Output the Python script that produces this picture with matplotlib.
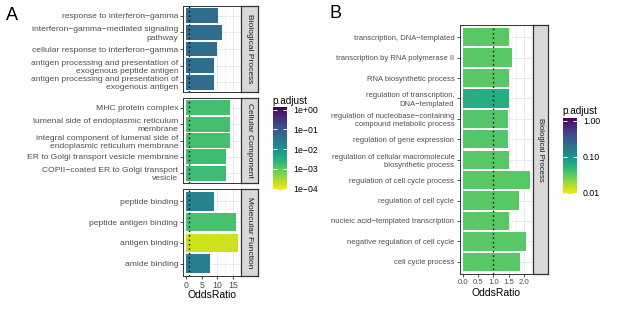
import numpy as np
import matplotlib
matplotlib.use("Agg")
import matplotlib.pyplot as plt
from matplotlib.colors import LogNorm
from matplotlib.cm import ScalarMappable
from matplotlib.ticker import MultipleLocator, NullLocator

plt.rcParams['font.family'] = ['Liberation Sans', 'DejaVu Sans']

M = "\u2212"

# ---------------- Panel A data ----------------
bp_terms = [f"response to interferon{M}gamma",
            f"interferon{M}gamma{M}mediated signaling\npathway",
            f"cellular response to interferon{M}gamma",
            "antigen processing and presentation of\nexogenous peptide antigen",
            "antigen processing and presentation of\nexogenous antigen"]
bp_odds = [10.2, 11.6, 10.0, 8.9, 8.9]
bp_padj = [0.045, 0.045, 0.045, 0.045, 0.045]

cc_terms = ["MHC protein complex",
            "lumenal side of endoplasmic reticulum\nmembrane",
            "integral component of lumenal side of\nendoplasmic reticulum membrane",
            "ER to Golgi transport vesicle membrane",
            f"COPII{M}coated ER to Golgi transport\nvesicle"]
cc_odds = [14.0, 14.0, 14.0, 12.9, 12.9]
cc_padj = [0.0015, 0.0015, 0.0015, 0.0017, 0.0017]

mf_terms = ["peptide binding", "peptide antigen binding",
            "antigen binding", "amide binding"]
mf_odds = [9.0, 16.1, 16.7, 7.7]
mf_padj = [0.019, 0.0014, 0.00018, 0.023]

facet_names_A = ["Biological Process", "Cellular Component", "Molecular Function"]
a_cbar_ticks = [1e0, 1e-1, 1e-2, 1e-3, 1e-4]
a_cbar_labels = ["1e+00", f"1e{M}01", f"1e{M}02", f"1e{M}03", f"1e{M}04"]
a_xticks = [0, 5, 10, 15]

# ---------------- Panel B data ----------------
b_terms = [f"transcription, DNA{M}templated",
           "transcription by RNA polymerase II",
           "RNA biosynthetic process",
           f"regulation of transcription,\nDNA{M}templated",
           f"regulation of nucleobase{M}containing\ncompound metabolic process",
           "regulation of gene expression",
           "regulation of cellular macromolecule\nbiosynthetic process",
           "regulation of cell cycle process",
           "regulation of cell cycle",
           f"nucleic acid{M}templated transcription",
           "negative regulation of cell cycle",
           "cell cycle process"]
b_odds = [1.51, 1.60, 1.51, 1.53, 1.48, 1.48, 1.53, 2.20, 1.85, 1.51, 2.07, 1.87]
b_padj = [0.033, 0.033, 0.033, 0.059, 0.034, 0.034, 0.033, 0.033, 0.033, 0.033, 0.033, 0.033]
b_cbar_ticks = [1.0, 0.1, 0.01]
b_cbar_labels = ["1.00", "0.10", "0.01"]
b_xticks = [0.0, 0.5, 1.0, 1.5, 2.0]
facet_name_B = "Biological Process"

# ---------------- Layout helpers ----------------
W, H = 617, 309
fig = plt.figure(figsize=(W / 100, H / 100), dpi=100)


def rect(x0, y0, x1, y1):
    return [x0 / W, 1 - y1 / H, (x1 - x0) / W, (y1 - y0) / H]


cmap = plt.get_cmap("viridis_r")
normA = LogNorm(vmin=10 ** -4.07, vmax=10 ** 0.12)
normB = LogNorm(vmin=10 ** -2.03, vmax=10 ** 0.083)

GRID = "#EBEBEB"
BORDER = "#333333"
TXT = "#4D4D4D"


def style_panel(ax, terms, odds, padj, norm, xlim, xticks, minor, ysize, show_x, xsize):
    n = len(terms)
    pos = np.arange(n)
    ax.set_xlim(*xlim)
    ax.set_ylim(n - 0.4, -0.6)
    ax.set_xticks(xticks)
    ax.xaxis.set_minor_locator(MultipleLocator(minor))
    ax.set_yticks(pos)
    ax.set_yticklabels(terms, fontsize=ysize, color=TXT, linespacing=1.25)
    ax.grid(True, which="major", color=GRID, lw=0.7)
    ax.grid(True, which="minor", axis="x", color=GRID, lw=0.4)
    ax.set_axisbelow(True)
    ax.barh(pos, odds, height=0.9, color=cmap(norm(np.array(padj))), zorder=2)
    ax.axvline(1, color="black", ls=(0, (1, 2.2)), lw=1.0, zorder=3)
    for s in ax.spines.values():
        s.set_color(BORDER)
        s.set_linewidth(0.7)
    ax.tick_params(axis="both", which="major", length=2.2, width=0.6, color=BORDER, pad=1.5)
    ax.tick_params(axis="x", which="minor", length=0)
    ax.tick_params(axis="x", labelsize=xsize, labelcolor=TXT)
    if not show_x:
        ax.tick_params(axis="x", labelbottom=False, length=0)


def strip(x0, y0, x1, y1, text, size):
    sax = fig.add_axes(rect(x0, y0, x1, y1))
    sax.set_xticks([])
    sax.set_yticks([])
    sax.set_facecolor("#D9D9D9")
    for s in sax.spines.values():
        s.set_color(BORDER)
        s.set_linewidth(0.9)
    sax.text(0.5, 0.5, text, rotation=270, ha="center", va="center",
             fontsize=size, color="#1A1A1A", transform=sax.transAxes)


# ---------------- Panel A ----------------
ax_x0, ax_x1 = 183.3, 241.0
facet_y = [(6, 92), (98, 183), (189, 276)]
A_sets = [(bp_terms, bp_odds, bp_padj), (cc_terms, cc_odds, cc_padj), (mf_terms, mf_odds, mf_padj)]
xlimA = (-0.85, 17.55)
for i, ((y0, y1), (t, o, p)) in enumerate(zip(facet_y, A_sets)):
    ax = fig.add_axes(rect(ax_x0, y0, ax_x1, y1))
    style_panel(ax, t, o, p, normA, xlimA, a_xticks, 2.5, 6.1, i == 2, 6.3)
    strip(ax_x1, y0, 257.5, y1, facet_names_A[i], 6.0)

fig.text((ax_x0 + ax_x1) / 2 / W, 1 - 294.5 / H, "OddsRatio", ha="center", va="center",
         fontsize=7.5, color="black")
fig.text(6 / W, 1 - 15 / H, "A", ha="left", va="center", fontsize=13)

# colorbar A
caxA = fig.add_axes(rect(272.7, 107.3, 287.3, 190))
cbA = fig.colorbar(ScalarMappable(norm=normA, cmap=cmap), cax=caxA)
cbA.outline.set_visible(False)
cbA.set_ticks(a_cbar_ticks)
cbA.set_ticklabels(a_cbar_labels)
caxA.yaxis.set_minor_locator(NullLocator())
caxA.tick_params(axis="y", direction="in", color="white", length=3, width=0.7,
                 left=True, right=True, labelsize=6.3, labelcolor="black", pad=4)
fig.text(272.7 / W, 1 - 100.5 / H, "p.adjust", ha="left", va="center", fontsize=7.2)

# ---------------- Panel B ----------------
bx0, bx1 = 459.5, 533.2
axB = fig.add_axes(rect(bx0, 25, bx1, 274))
style_panel(axB, b_terms, b_odds, b_padj, normB, (-0.11, 2.31), b_xticks, 0.25, 5.5, True, 5.6)
strip(bx1, 25, 548, 274, facet_name_B, 5.6)
fig.text((bx0 + bx1) / 2 / W, 1 - 292.5 / H, "OddsRatio", ha="center", va="center",
         fontsize=7.5, color="black")
fig.text(330 / W, 1 - 13 / H, "B", ha="left", va="center", fontsize=13)

caxB = fig.add_axes(rect(562.7, 118, 577.3, 194))
cbB = fig.colorbar(ScalarMappable(norm=normB, cmap=cmap), cax=caxB)
cbB.outline.set_visible(False)
cbB.set_ticks(b_cbar_ticks)
cbB.set_ticklabels(b_cbar_labels)
caxB.yaxis.set_minor_locator(NullLocator())
caxB.tick_params(axis="y", direction="in", color="white", length=3, width=0.7,
                 left=True, right=True, labelsize=6.3, labelcolor="black", pad=4)
fig.text(562.7 / W, 1 - 110.5 / H, "p.adjust", ha="left", va="center", fontsize=7.2)

fig.savefig("out.png", dpi=100, facecolor="white")
